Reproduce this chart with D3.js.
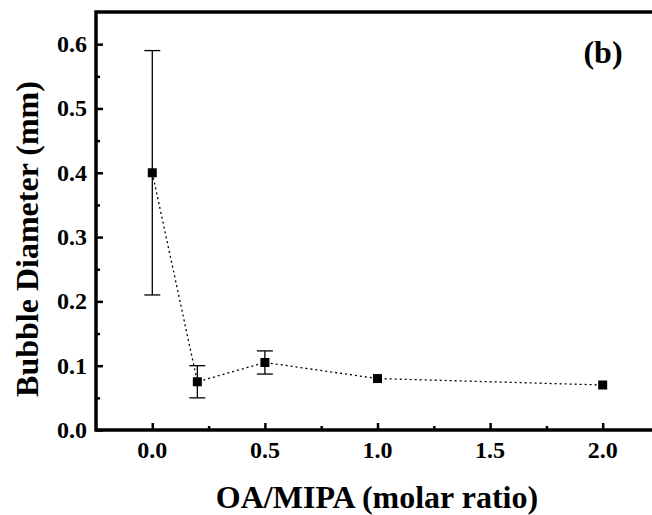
<!DOCTYPE html>
<html>
<head>
<meta charset="utf-8">
<script src="https://cdn.jsdelivr.net/npm/d3@7"></script>
<style>
	body { margin: 0; background: #fff; }
	svg { display: block; font-family: "Liberation Serif", "Times New Roman", serif; font-weight: bold; }
</style>
</head>
<body>
<div id="chart"></div>
<script>
// values
const ratios = [0.0, 0.2, 0.5, 1.0, 2.0];
const diameters = [0.40, 0.075, 0.105, 0.080, 0.070];
const errors = [0.19, 0.025, 0.018, 0.004, 0.002];
const xTicks = [0.0, 0.5, 1.0, 1.5, 2.0];
const yTicks = [0.0, 0.1, 0.2, 0.3, 0.4, 0.5, 0.6];

const width = 652;
const height = 515;
const margin = { top: 12, left: 96, bottom: 85 };

const svg = d3.select('#chart')
	.append('svg')
	.attr('width', width)
	.attr('height', height);

// x axis runs past the right edge (cropped in the original)
const x = d3.scaleLinear()
	.domain([-0.25, 2.25])
	.range([margin.left, margin.left + 2.5 * 225.2]);

const y = d3.scaleLinear()
	.domain([0, 0.65])
	.range([height - margin.bottom, margin.top]);

const y0 = y(0);

// inward ticks
const xAxis = d3.axisTop(x)
	.tickValues(xTicks)
	.tickSize(7)
	.tickFormat('');
const xMinor = d3.axisTop(x)
	.tickValues(d3.range(0.25, 2.3, 0.5))
	.tickSize(4)
	.tickFormat('');
const yAxis = d3.axisRight(y)
	.tickValues(yTicks)
	.tickSize(7)
	.tickFormat('');
const yMinor = d3.axisRight(y)
	.tickValues(d3.range(0.05, 0.65, 0.1))
	.tickSize(4)
	.tickFormat('');

[xAxis, xMinor].forEach((ax) => {
	svg.append('g')
		.attr('transform', `translate(0,${y0})`)
		.call(ax)
		.call((g) => g.select('.domain').remove())
		.selectAll('line')
		.attr('stroke', '#000')
		.attr('stroke-width', 2.5);
});

[yAxis, yMinor].forEach((ax) => {
	svg.append('g')
		.attr('transform', `translate(${margin.left},0)`)
		.call(ax)
		.call((g) => g.select('.domain').remove())
		.selectAll('line')
		.attr('stroke', '#000')
		.attr('stroke-width', 2.5);
});

// frame: left, bottom, top (right side cut off)
svg.append('path')
	.attr('d', `M${width + 5},${y(0.65)}H${margin.left}V${y0}H${width + 5}`)
	.attr('fill', 'none')
	.attr('stroke', '#000')
	.attr('stroke-width', 3.5);

// tick labels
svg.append('g')
	.selectAll('text')
	.data(xTicks)
	.join('text')
	.attr('x', (d) => x(d))
	.attr('y', y0 + 28)
	.attr('text-anchor', 'middle')
	.attr('font-size', 24)
	.text((d) => d.toFixed(1));

svg.append('g')
	.selectAll('text')
	.data(yTicks)
	.join('text')
	.attr('x', margin.left - 9)
	.attr('y', (d) => y(d) + 8)
	.attr('text-anchor', 'end')
	.attr('font-size', 24)
	.text((d) => d.toFixed(1));

// axis titles
svg.append('text')
	.attr('x', 377)
	.attr('y', 508)
	.attr('text-anchor', 'middle')
	.attr('font-size', 32)
	.text('OA/MIPA (molar ratio)');

svg.append('text')
	.attr('transform', `translate(38,239) rotate(-90)`)
	.attr('text-anchor', 'middle')
	.attr('font-size', 32)
	.text('Bubble Diameter (mm)');

svg.append('text')
	.attr('x', 603)
	.attr('y', 63)
	.attr('text-anchor', 'middle')
	.attr('font-size', 32)
	.text('(b)');

const points = ratios.map((r, i) => ({ x: r, y: diameters[i], e: errors[i] }));

// dotted connecting line
svg.append('path')
	.datum(points)
	.attr('fill', 'none')
	.attr('stroke', '#000')
	.attr('stroke-width', 1.3)
	.attr('stroke-dasharray', '2,3')
	.attr('d', d3.line()
		.x((d) => x(d.x))
		.y((d) => y(d.y))
	);

// error bars
const err = svg.append('g')
	.attr('stroke', '#000')
	.attr('stroke-width', 1.3)
	.selectAll('g')
	.data(points.filter((d) => d.e > 0.005))
	.join('g');

err.append('line')
	.attr('x1', (d) => x(d.x))
	.attr('x2', (d) => x(d.x))
	.attr('y1', (d) => y(d.y + d.e))
	.attr('y2', (d) => y(d.y - d.e));

err.selectAll('line.cap')
	.data((d) => [
		{ x: d.x, y: d.y + d.e },
		{ x: d.x, y: d.y - d.e }
	])
	.join('line')
	.attr('class', 'cap')
	.attr('x1', (d) => x(d.x) - 8)
	.attr('x2', (d) => x(d.x) + 8)
	.attr('y1', (d) => y(d.y))
	.attr('y2', (d) => y(d.y));

// square markers
svg.append('g')
	.selectAll('rect')
	.data(points)
	.join('rect')
	.attr('x', (d) => x(d.x) - 4.5)
	.attr('y', (d) => y(d.y) - 4.5)
	.attr('width', 9)
	.attr('height', 9)
	.attr('fill', '#000');
</script>
</body>
</html>
